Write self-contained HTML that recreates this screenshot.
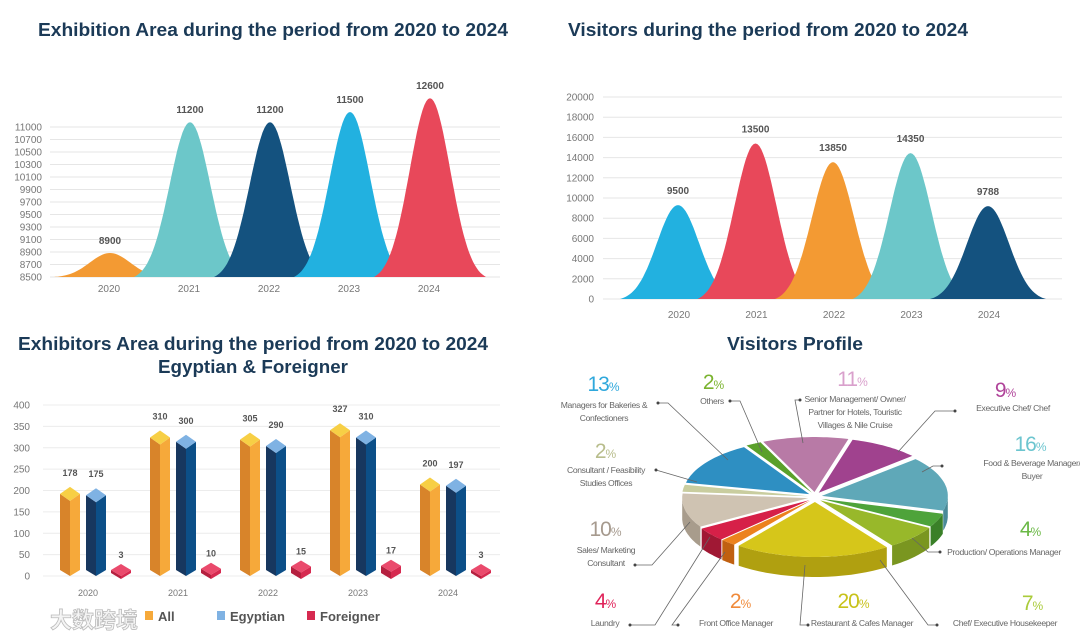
<!DOCTYPE html>
<html><head><meta charset="utf-8">
<style>
html,body{margin:0;padding:0;background:#fff;}
svg{display:block;font-family:"Liberation Sans","Noto Sans CJK SC",sans-serif;}
.ttl{font-weight:bold;fill:#1b3a57;font-size:18px;}
.tick{fill:#777;font-size:10px;}
.val{fill:#555;font-size:10px;font-weight:bold;}
.lbl{fill:#666;font-size:8.6px;letter-spacing:-0.35px;}
.pct{font-size:21px;letter-spacing:-1px;}
</style></head>
<body>
<svg id="page" width="1080" height="640" viewBox="0 0 1080 640" xmlns="http://www.w3.org/2000/svg">
<text class="ttl" x="38" y="36" textLength="470" lengthAdjust="spacingAndGlyphs">Exhibition Area during the period from 2020 to 2024</text>
<text class="ttl" x="568" y="36" textLength="400" lengthAdjust="spacingAndGlyphs">Visitors during the period from 2020 to 2024</text>
<text class="ttl" x="18" y="350" textLength="470" lengthAdjust="spacingAndGlyphs">Exhibitors Area during the period from 2020 to 2024</text>
<text class="ttl" x="253" y="373" text-anchor="middle" textLength="190" lengthAdjust="spacingAndGlyphs">Egyptian &amp; Foreigner</text>
<text class="ttl" x="795" y="350" text-anchor="middle" textLength="136" lengthAdjust="spacingAndGlyphs">Visitors Profile</text>
<g id="c1"></g>
<g id="c2"></g>
<g id="c3"></g>
<g id="c4"></g>
<text x="50" y="628" font-size="22" font-weight="bold" fill="#f4f4f4" stroke="#bbb" stroke-width="0.8">大数跨境</text>
</svg>
<script>
// ---------- data ----------
const years = ["2020","2021","2022","2023","2024"];
const areaValues = [8900, 11200, 11200, 11500, 12600];
const areaPeaks = [8900, 11080, 11080, 11250, 11480];
const areaTicks = ["11000","10700","10500","10300","10100","9900","9700","9500","9300","9100","8900","8700","8500"];
const visitorValues = [9500, 13500, 13850, 14350, 9788];
const visitorPeaks = [9300, 15400, 13550, 14450, 9200];
const visitorTicks = [0,2000,4000,6000,8000,10000,12000,14000,16000,18000,20000];
const exAll = [178, 310, 305, 327, 200];
const exEgy = [175, 300, 290, 310, 197];
const exFor = [3, 10, 15, 17, 3];
const exTicks = [0,50,100,150,200,250,300,350,400];
const pieNames = ["Senior Management","Executive Chef","Food & Beverage","Production","Chef Housekeeper","Restaurant","Front Office","Laundry","Sales","Consultant","Managers Bakeries","Others"];
const pieValues = [11, 9, 16, 4, 7, 20, 2, 4, 10, 2, 13, 2];

const NS = "http://www.w3.org/2000/svg";
function mk(tag, attrs, parent, txt){
  const e = document.createElementNS(NS, tag);
  for (const k in attrs) e.setAttribute(k, attrs[k]);
  if (txt !== undefined) e.textContent = txt;
  parent.appendChild(e); return e;
}
function bellPath(cx, hw, base, peak){
  const k = 1.95, f1 = Math.exp(-k*k);
  let d = "";
  for (let i = 0; i <= 60; i++){
    const t = -1 + i/30;
    const x = cx + t*hw;
    const f = (Math.exp(-Math.pow(t*k,2)) - f1)/(1 - f1);
    const y = base - (base-peak)*f;
    d += (i ? "L" : "M") + x.toFixed(1) + "," + y.toFixed(1);
  }
  return d + "Z";
}

// ---------- chart 1 ----------
(function(){
  const g = document.getElementById("c1");
  const base = 277, px = 0.06;
  const y = v => base - (v-8500)*px;
  const xs = i => 110 + i*80;
  areaTicks.forEach((t,i)=>{
    const yy = 127 + i*12.5;
    const l = mk("line",{x1:50,x2:500,y1:yy,y2:yy,stroke:"#e6e6e6"},g);
    
    
    const tx = mk("text",{x:42,y:yy+3.5,"text-anchor":"end",class:"tick"},g,t);
    
    
  });
  const cols = ["#f39a33","#6cc7c9","#14527f","#22b1e0","#e8485a"];
  years.forEach((yr,i)=>{
    const p = mk("path",{d:bellPath(xs(i),56,base,y(areaPeaks[i])),fill:cols[i]},g);
    
    
    const v = mk("text",{x:xs(i),y:y(areaPeaks[i])-9,"text-anchor":"middle",class:"val"},g,areaValues[i]);
    
    
    const c = mk("text",{x:xs(i)-1,y:292,"text-anchor":"middle",class:"tick"},g,yr);
    
    
  });
})();

// ---------- chart 2 ----------
(function(){
  const g = document.getElementById("c2");
  const base = 299, top = 97;
  const y = v => base - v/20000*(base-top);
  const xs = i => 678 + i*77.5;
  visitorTicks.forEach(t=>{
    const l = mk("line",{x1:603,x2:1062,y1:y(t),y2:y(t),stroke:"#e6e6e6"},g);
    
    
    const tx = mk("text",{x:594,y:y(t)+3.5,"text-anchor":"end",class:"tick"},g,t);
    
    
  });
  const cols = ["#22b1e0","#e8485a","#f39a33","#6cc7c9","#14527f"];
  years.forEach((yr,i)=>{
    const p = mk("path",{d:bellPath(xs(i),58,base,y(visitorPeaks[i])),fill:cols[i]},g);
    
    
    const v = mk("text",{x:xs(i),y:y(visitorPeaks[i])-11,"text-anchor":"middle",class:"val"},g,visitorValues[i]);
    
    
    const c = mk("text",{x:xs(i)+1,y:318,"text-anchor":"middle",class:"tick"},g,yr);
    
    
  });
})();

// ---------- chart 3 ----------
(function(){
  const g = document.getElementById("c3");
  const base = 576, top = 405;
  const y = v => base - v/400*(base-top);
  const gx = i => 88 + i*90;
  exTicks.forEach(t=>{
    const l = mk("line",{x1:43,x2:500,y1:y(t),y2:y(t),stroke:"#ececec"},g);
    
    
    const tx = mk("text",{x:30,y:y(t)+3.5,"text-anchor":"end",class:"tick"},g,t);
    
    
  });
  function prism(cx, ty, cTop, cL, cR, name){
    const grp = mk("g",{},g);
    
    
    mk("polygon",{points:`${cx-10},${ty} ${cx},${ty+7} ${cx},${base} ${cx-10},${base-6}`,fill:cL},grp);
    mk("polygon",{points:`${cx},${ty+7} ${cx+10},${ty} ${cx+10},${base-6} ${cx},${base}`,fill:cR},grp);
    mk("polygon",{points:`${cx-10},${ty} ${cx},${ty-7} ${cx+10},${ty} ${cx},${ty+7}`,fill:cTop},grp);
  }
  function label(x, yy, t){
    const v = mk("text",{x:x,y:yy,"text-anchor":"middle",class:"val",style:"font-size:9px"},g,t);
    
    
  }
  years.forEach((yr,i)=>{
    const c = gx(i);
    const ya = y(exAll[i]) - 6, ye = y(exEgy[i]) - 6;
    prism(c-18, ya, "#f7cf45", "#d8842a", "#f6a93a", "bar-all-"+yr);
    label(c-18, ya-18, exAll[i]);
    prism(c+8, ye, "#7fb2e3", "#17375f", "#0c4f88", "bar-egyptian-"+yr);
    label(c+8, ye-18, exEgy[i]);
    const fx = c+33, fh = Math.max(3, exFor[i]*0.43);
    const fb = base - 3, ft = fb - fh;
    const grp = mk("g",{},g);
    
    
    mk("polygon",{points:`${fx-10},${ft} ${fx},${ft+6} ${fx},${fb+6} ${fx-10},${fb}`,fill:"#b5203f"},grp);
    mk("polygon",{points:`${fx},${ft+6} ${fx+10},${ft} ${fx+10},${fb} ${fx},${fb+6}`,fill:"#d62a50"},grp);
    mk("polygon",{points:`${fx-10},${ft} ${fx},${ft-6} ${fx+10},${ft} ${fx},${ft+6}`,fill:"#ea4a6c"},grp);
    label(fx, ft-12, exFor[i]);
    const xl = mk("text",{x:c,y:596,"text-anchor":"middle",class:"tick",style:"font-size:9px"},g,yr);
    
    
  });
  const leg = [["All","#f6a93a",145],["Egyptian","#7fb2e3",217],["Foreigner","#d62a50",307]];
  leg.forEach(L=>{
    const lg = mk("g",{},g);
    
    
    mk("rect",{x:L[2],y:611,width:8,height:9,fill:L[1]},lg);
    mk("text",{x:L[2]+13,y:621,fill:"#555","font-size":"13","font-weight":"bold"},lg,L[0]);
  });
})();

// ---------- chart 4 (pie) ----------
(function(){
  const g = document.getElementById("c4");
  const cx = 815, cy = 497, rx = 126, ry = 55, depth = 20, start = -114;
  const tops = ["#b87aa6","#a0428e","#5fa8b8","#4ea33a","#98b82a","#d6c61a","#ec821e","#d62048","#cfc3b2","#c9cd9f","#2e8fc2","#5aa02a"];
  const sides = ["#8f5a80","#7a2e6c","#4a8a98","#3a8028","#7a9620","#b0a010","#c06010","#a01834","#a89c8c","#a4a880","#20709c","#40801c"];
  const total = pieValues.reduce((a,b)=>a+b,0);
  const rad = d => d*Math.PI/180;
  let a0 = start;
  const slices = pieValues.map((v,i)=>{
    const a1 = a0 + v/total*360;
    const s = {a0:a0,a1:a1,i:i};
    a0 = a1; return s;
  });
  const pt = (ox,oy,a,dy) => [ox+rx*Math.cos(rad(a)), oy+ry*Math.sin(rad(a))+(dy||0)];
  slices.forEach(s=>{
    const m = (s.a0+s.a1)/2;
    s.ox = cx + 7*Math.cos(rad(m)); s.oy = cy + 5*Math.sin(rad(m));
  });
  slices.forEach(s=>{
    const segs = [];
    for (let k=-360;k<=360;k+=360){
      const lo = Math.max(s.a0, k), hi = Math.min(s.a1, k+180);
      if (hi > lo) segs.push([lo,hi]);
    }
    segs.forEach(sg=>{
      let d = "";
      const n = 20;
      for (let j=0;j<=n;j++){ const p = pt(s.ox,s.oy,sg[0]+(sg[1]-sg[0])*j/n); d += (j?"L":"M")+p[0].toFixed(1)+","+p[1].toFixed(1); }
      for (let j=n;j>=0;j--){ const p = pt(s.ox,s.oy,sg[0]+(sg[1]-sg[0])*j/n,depth); d += "L"+p[0].toFixed(1)+","+p[1].toFixed(1); }
      const w = mk("path",{d:d+"Z",fill:sides[s.i]},g);
      
      
    });
  });
  slices.forEach(s=>{
    let d = `M${s.ox.toFixed(1)},${s.oy.toFixed(1)}`;
    const n = 24;
    for (let j=0;j<=n;j++){ const p = pt(s.ox,s.oy,s.a0+(s.a1-s.a0)*j/n); d += "L"+p[0].toFixed(1)+","+p[1].toFixed(1); }
    const p = mk("path",{d:d+"Z",fill:tops[s.i]},g);
    
    
  });
  const labels = [
    [10,603,391,"#2fa8dc",["Managers for Bakeries &","Confectioners"],604,408,"658,403 668,403 728,460"],
    [11,713,389,"#7ab32e",["Others"],712,404,"730,401 740,401 762,452"],
    [0,852,386,"#d9a0cc",["Senior Management/ Owner/","Partner for Hotels, Touristic","Villages &  Nile Cruise"],855,402,"800,400 795,400 803,443"],
    [1,1005,397,"#b0449a",["Executive Chef/ Chef"],1013,411,"955,411 935,411 898,452"],
    [2,1030,451,"#6cc5cf",["Food & Beverage Manager/","Buyer"],1032,466,"942,466 933,466 922,472"],
    [3,1030,536,"#6ab845",["Production/ Operations Manager"],1004,555,"940,552 928,552 912,538"],
    [4,1032,610,"#aacb3a",["Chef/ Executive Housekeeper"],1005,626,"937,625 928,625 880,560"],
    [5,853,608,"#c8c21a",["Restaurant & Cafes Manager"],862,626,"808,625 800,625 805,565"],
    [6,740,608,"#f08a3a",["Front Office Manager"],736,626,"678,625 672,625 725,552"],
    [7,605,608,"#e0245a",["Laundry"],605,626,"630,625 655,625 710,537"],
    [8,605,536,"#a69a8e",["Sales/ Marketing","Consultant"],606,553,"635,565 652,565 690,522"],
    [9,605,458,"#b8bd8c",["Consultant / Feasibility","Studies Offices"],606,473,"656,470 697,482"]
  ];
  labels.forEach(L=>{
    const grp = mk("g",{},g);
    
    
    mk("polyline",{points:L[7],fill:"none",stroke:"#666","stroke-width":"0.8"},grp);
    const first = L[7].split(" ")[0].split(",");
    mk("circle",{cx:first[0],cy:first[1],r:1.5,fill:"#444"},grp);
    const t = mk("text",{x:L[1],y:L[2],"text-anchor":"middle",class:"pct",fill:L[3]},grp,pieValues[L[0]]);
    mk("tspan",{"font-size":"12"},t,"%");
    L[4].forEach((ln,k)=>{
      mk("text",{x:L[5],y:L[6]+k*13,"text-anchor":"middle",class:"lbl"},grp,ln);
    });
  });
})();
</script>
</body></html>
